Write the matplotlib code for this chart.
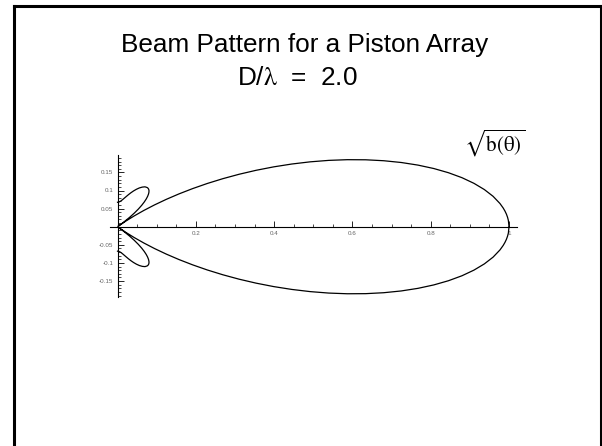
import numpy as np
import matplotlib
matplotlib.use("Agg")
import matplotlib.pyplot as plt
from matplotlib.lines import Line2D

plt.rcParams['font.family'] = ['Liberation Sans', 'DejaVu Sans']
plt.rcParams['mathtext.fontset'] = 'stix'

# normalised amplitude sqrt(b(theta)) of the piston, D/lambda = 2.0
theta_deg = [0, 1, 1.5, 2, 2.5, 3, 3.75, 5, 6.25, 7.5, 8.75, 10, 11.25,
             12.5, 13.75, 15, 16.25, 17.5, 18.75, 20, 21.25, 22.5, 23.75,
             25, 26.25, 27.5, 28.75, 30, 31.25, 32.5, 33.75, 35, 36.25,
             37.5, 38.75, 40, 41.25, 42.5, 43.75, 45, 46.25, 47.5, 48.75,
             50, 51.25, 52.5, 53.75, 55, 57.5, 60, 62.5, 65, 67.5, 70,
             72.5, 75, 77.5, 80, 82.5, 85, 87.5, 90]
r_amp = [1.0, 0.9985, 0.9966, 0.9940, 0.9906, 0.9865, 0.9790, 0.9630,
         0.9426, 0.9182, 0.8901, 0.8584, 0.8236, 0.7860, 0.7460, 0.7039,
         0.6603, 0.6154, 0.5698, 0.5237, 0.4776, 0.4319, 0.3868, 0.3427,
         0.2998, 0.2585, 0.2188, 0.1811, 0.1455, 0.1121, 0.0810, 0.0521,
         0.0256, 0.0015, 0.0203, 0.0399, 0.0572, 0.0723, 0.0855, 0.0967,
         0.1062, 0.1139, 0.1201, 0.1249, 0.1284, 0.1306, 0.1318, 0.1321,
         0.1306, 0.1263, 0.1207, 0.1140, 0.1069, 0.0997, 0.0928, 0.0864,
         0.0809, 0.0762, 0.0724, 0.0697, 0.0681, 0.0675]

x_ticks = [0.2, 0.4, 0.6, 0.8, 1.0]
x_labels = ["0.2", "0.4", "0.6", "0.8", "1"]
y_ticks = [-0.15, -0.1, -0.05, 0.05, 0.1, 0.15]
y_labels = ["-0.15", "-0.1", "-0.05", "0.05", "0.1", "0.15"]

W, H = 602, 446
fig = plt.figure(figsize=(W / 100, H / 100), dpi=100)

# slide frame
frame = dict(color="black", lw=2.2, solid_capstyle="projecting")
fig.add_artist(Line2D([13.5 / W, 13.5 / W], [0, 1 - 6 / H], **frame))
fig.add_artist(Line2D([13.5 / W, 600.5 / W], [1 - 6 / H, 1 - 6 / H], **frame))
fig.add_artist(Line2D([600.5 / W, 600.5 / W], [0, 1 - 6 / H], **frame))

fig.text(305 / W, 1 - 52 / H, "Beam Pattern for a Piston Array",
         fontsize=18.8, ha="center", va="baseline")
fig.text(297 / W, 1 - 85 / H, r"D/$\mathrm{\lambda}$  =  2.0",
         fontsize=18.8, ha="center", va="baseline")
fig.text(495 / W, 1 - 143 / H, r"$\sqrt{\mathrm{b(\theta)}}$",
         fontsize=15, ha="center", va="center")

# axes placed so that x=0 sits at px 117.5, x=1 at px 509
left_px, right_px, top_px, bot_px = 110, 517, 155, 297
ax = fig.add_axes([left_px / W, 1 - bot_px / H,
                   (right_px - left_px) / W, (bot_px - top_px) / H])
ax.set_xlim(-0.0192, 1.0204)
ax.set_ylim(-0.194, 0.198)
ax.patch.set_alpha(0)

th = np.radians(theta_deg)
r = np.array(r_amp)
ax.plot(r * np.cos(th), r * np.sin(th), color="black", lw=0.9)
ax.plot(r * np.cos(th), -r * np.sin(th), color="black", lw=0.9)

for s in ["top", "right"]:
    ax.spines[s].set_visible(False)
for s in ["left", "bottom"]:
    ax.spines[s].set_position("zero")
    ax.spines[s].set_linewidth(0.8)

ax.set_xticks(x_ticks, x_labels)
ax.set_yticks(y_ticks, y_labels)
ax.set_xticks(np.arange(0.05, 1.0001, 0.05), minor=True)
ax.set_yticks([v for v in np.arange(-0.19, 0.195, 0.01) if abs(v) > 1e-6],
              minor=True)
ax.tick_params(which="major", direction="in", length=4, width=0.6,
               labelsize=4.5, labelcolor="#666666", pad=3)
ax.tick_params(which="minor", direction="in", length=2, width=0.5)

fig.savefig("out.png", dpi=100)
